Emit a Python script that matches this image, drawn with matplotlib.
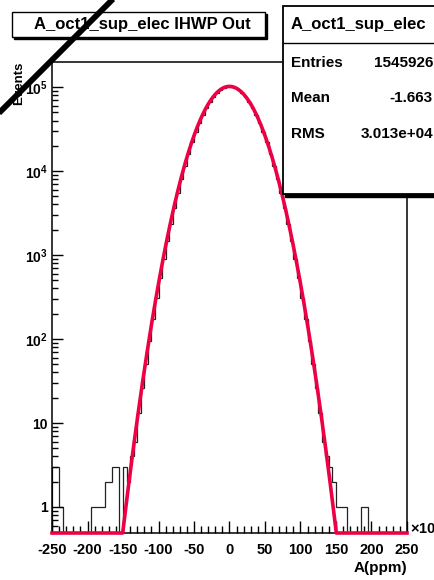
import numpy as np
import matplotlib
matplotlib.use("Agg")
import matplotlib.pyplot as plt
from matplotlib.ticker import MultipleLocator, FixedLocator, LogLocator, NullFormatter
from matplotlib.patches import Rectangle
from matplotlib.lines import Line2D

plt.rcParams['font.family'] = ['Liberation Sans', 'DejaVu Sans']
plt.rcParams['font.weight'] = 'bold'
plt.rcParams['axes.unicode_minus'] = False
plt.rcParams['mathtext.fontset'] = 'custom'
plt.rcParams['mathtext.rm'] = 'Liberation Sans:bold'
plt.rcParams['mathtext.bf'] = 'Liberation Sans:bold'
plt.rcParams['mathtext.default'] = 'rm'

"""
DATOS
"""
# bordes de bins (x10^3), 100 bins de ancho 5
x_min, x_max, n_bins = -250, 250, 100
# cuentas por bin
cuentas = [3, 3, 1, 0, 0, 0, 0, 0, 0, 0,
           0, 1, 1, 1, 1, 2, 2, 3, 3, 0,
           3, 2, 4, 6, 13, 26, 50, 94, 172, 307,
           532, 898, 1474, 2354, 3659, 5530, 8132, 11630, 16180, 21910,
           28860, 36980, 46090, 55890, 65935, 75670, 84478, 91754, 96950, 99656,
           99656, 96950, 91754, 84478, 75670, 65935, 55890, 46090, 36980, 28860,
           21910, 16180, 11630, 8132, 5530, 3659, 2354, 1474, 898, 532,
           307, 172, 94, 50, 26, 13, 6, 4, 3, 2,
           1, 1, 1, 0, 0, 0, 0, 1, 1, 0,
           0, 0, 0, 0, 0, 0, 0, 0, 0, 0]
# parametros del ajuste gaussiano
fit_const = 1.02e5
fit_mean = 0.0
fit_sigma = 30.4
# estadisticas
titulo = "A_oct1_sup_elec IHWP Out"
nombre_hist = "A_oct1_sup_elec"
stats_nombres = ["Entries", "Mean", "RMS"]
stats_valores = ["1545926", "-1.663", "3.013e+04"]
# ejes
x_ticks = [-250, -200, -150, -100, -50, 0, 50, 100, 150, 200, 250]
y_ticks = [1, 10, 100, 1000, 10000, 100000]
y_ticklabels = ["1", "10", "$10^{2}$", "$10^{3}$", "$10^{4}$", "$10^{5}$"]
y_min, y_max = 0.49, 1.99e5

"""
FIGURA
"""
W, H = 435, 580
fig = plt.figure(figsize=(W / 100, H / 100), dpi=100)
fig.patch.set_facecolor('white')


def fx(px):
    return px / W


def fy(py):
    return 1 - py / H


ax = fig.add_axes([fx(52), fy(533), fx(407) - fx(52), fy(62) - fy(533)])

edges = np.linspace(x_min, x_max, n_bins + 1)
cuentas = np.array(cuentas, dtype=float)
cuentas_plot = np.where(cuentas > 0, cuentas, 1e-3)
ax.stairs(cuentas_plot, edges, color='#222222', lw=0.9, baseline=1e-3)

# curva de ajuste
xf = np.linspace(x_min, x_max, 2000)
yf = fit_const * np.exp(-0.5 * ((xf - fit_mean) / fit_sigma) ** 2)
yf = np.clip(yf, y_min, None)
ax.plot(xf, yf, color='#ee0044', lw=2.6, clip_on=False, zorder=5)

ax.set_yscale('log')
ax.set_xlim(x_min, x_max)
ax.set_ylim(y_min, y_max)

ax.xaxis.set_major_locator(FixedLocator(x_ticks))
ax.xaxis.set_minor_locator(MultipleLocator(10))
ax.set_xticklabels([str(t) for t in x_ticks])
ax.yaxis.set_major_locator(FixedLocator(y_ticks))
ax.yaxis.set_minor_locator(LogLocator(base=10, subs=np.arange(2, 10)))
ax.yaxis.set_minor_formatter(NullFormatter())
ax.set_yticklabels(y_ticklabels)

ax.tick_params(axis='x', which='major', direction='in', length=9, width=1, pad=7, labelsize=10.5)
ax.tick_params(axis='x', which='minor', direction='in', length=5, width=1)
ax.tick_params(axis='y', which='major', direction='in', length=8, width=1, pad=3, labelsize=10)
ax.tick_params(axis='y', which='minor', direction='in', length=4.5, width=1)
ax.tick_params(top=False, right=False, which='both')
for s in ax.spines.values():
    s.set_linewidth(1.1)

# textos de ejes
fig.text(fx(407), fy(568), "A(ppm)", ha='right', va='center', fontsize=11)
fig.text(fx(410), fy(528), "\u00d710$^{3}$", ha='left', va='center', fontsize=10.5)
fig.text(fx(19), fy(62), "Events", rotation=90, ha='center', va='top', fontsize=9.5)

# caja de titulo
fig.patches.append(Rectangle((fx(14), fy(39)), fx(265) - fx(12), fy(12) - fy(37),
                             transform=fig.transFigure, facecolor='k', edgecolor='k', zorder=8))
fig.patches.append(Rectangle((fx(12), fy(37)), fx(265) - fx(12), fy(12) - fy(37),
                             transform=fig.transFigure, facecolor='white', edgecolor='k',
                             lw=1.0, zorder=9))
fig.text(fx(142), fy(25), titulo, ha='center', va='center', fontsize=12, zorder=10)

# caja de estadisticas
fig.patches.append(Rectangle((fx(285), fy(197)), fx(460) - fx(283), fy(6) - fy(194),
                             transform=fig.transFigure, facecolor='k', edgecolor='k', zorder=8))
fig.patches.append(Rectangle((fx(283), fy(194)), fx(460) - fx(283), fy(6) - fy(194),
                             transform=fig.transFigure, facecolor='white', edgecolor='k',
                             lw=1.3, zorder=9))
fig.add_artist(Line2D([fx(283), fx(435)], [fy(43), fy(43)], transform=fig.transFigure,
                      color='k', lw=1.0, zorder=10))
fig.text(fx(291), fy(25), nombre_hist, ha='left', va='center', fontsize=12, zorder=10)
ypos = [63, 98, 134]
for nom, val, yy in zip(stats_nombres, stats_valores, ypos):
    fig.text(fx(291), fy(yy), nom, ha='left', va='center', fontsize=11, zorder=10)
    fig.text(fx(433), fy(yy), val, ha='right', va='center', fontsize=11, zorder=10)

# linea diagonal
fig.add_artist(Line2D([fx(-5), fx(118)], [fy(117), fy(-6)], transform=fig.transFigure,
                      color='k', lw=4.2, zorder=20, solid_capstyle='butt'))

plt.savefig('out.png', dpi=100)
